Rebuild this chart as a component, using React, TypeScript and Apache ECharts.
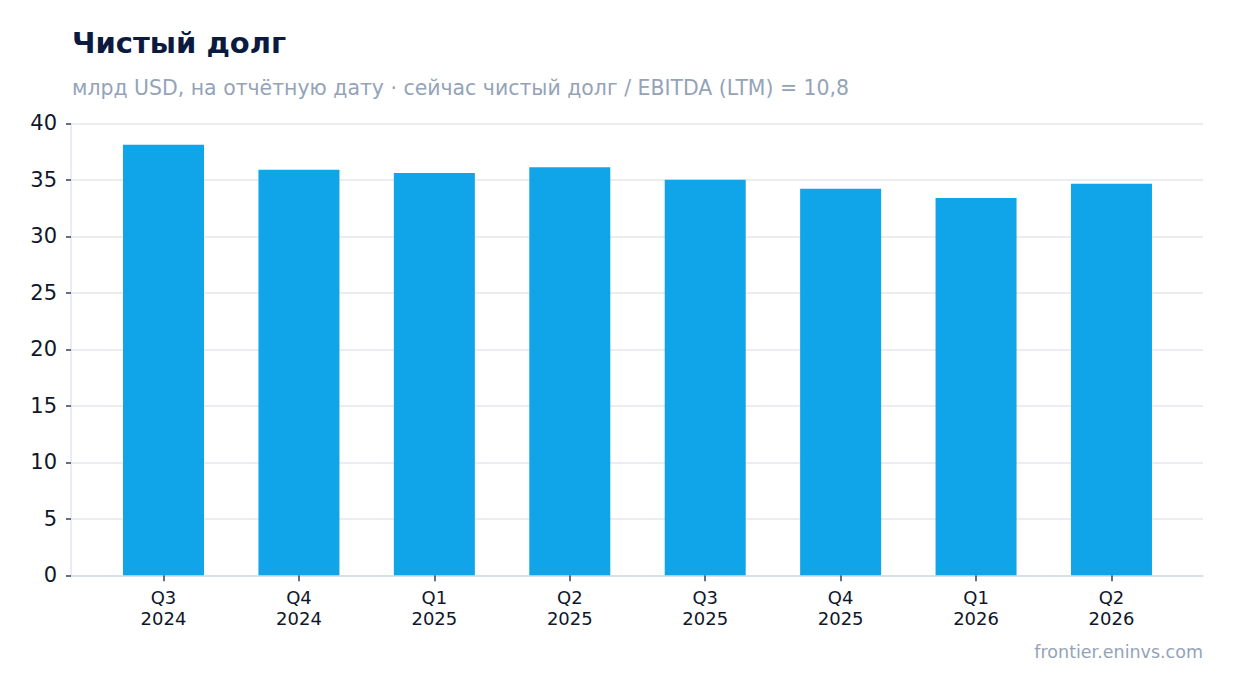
import React, { useEffect, useRef } from "react";
import * as echarts from "echarts";

const categories = ["Q3\n2024", "Q4\n2024", "Q1\n2025", "Q2\n2025", "Q3\n2025", "Q4\n2025", "Q1\n2026", "Q2\n2026"];
const netDebt = [38.1, 35.9, 35.6, 36.1, 35.0, 34.2, 33.4, 34.65];
const titleText = "Чистый долг";
const subtitleText = "млрд USD, на отчётную дату · сейчас чистый долг / EBITDA (LTM) = 10,8";
const footerText = "frontier.eninvs.com";

const FONT = "DejaVu Sans";

export default function App() {
  const ref = useRef<HTMLDivElement>(null);
  useEffect(() => {
    document.body.style.margin = "0";
    const chart = echarts.init(ref.current!, null, { renderer: "svg" });
    const top = 123.3;
    const bottom = 693 - 575.3;
    chart.setOption({
      animation: false,
      backgroundColor: "#ffffff",
      textStyle: { fontFamily: FONT },
      grid: [
        { left: 71, right: 31, top, bottom, containLabel: false },
        { left: 95.8, right: 54.8, top, bottom, containLabel: false },
      ],
      graphic: [
        {
          type: "text",
          x: 72,
          y: 43.3,
          style: { text: titleText, font: `bold 29px '${FONT}'`, fill: "#0b1a3f", verticalAlign: "middle" },
        },
        {
          type: "text",
          x: 72,
          y: 87.5,
          style: { text: subtitleText, font: `20.45px '${FONT}'`, fill: "#94a3b8", verticalAlign: "middle" },
        },
        {
          type: "text",
          x: 1203,
          y: 651.5,
          style: { text: footerText, font: `17.5px '${FONT}'`, fill: "#94a3b8", align: "right", verticalAlign: "middle" },
        },
      ],
      xAxis: [
        {
          type: "value",
          gridIndex: 0,
          min: 0,
          max: 1,
          axisLine: { show: true, lineStyle: { color: "#d5dbe5", width: 1.5 } },
          axisTick: { show: false },
          axisLabel: { show: false },
          splitLine: { show: false },
        },
        {
          type: "category",
          gridIndex: 1,
          data: categories,
          axisLine: { show: false },
          axisTick: { show: true, alignWithLabel: true, length: 6, lineStyle: { color: "#334155", width: 1.5 } },
          axisLabel: { color: "#0f172a", fontSize: 18, lineHeight: 21, margin: 12, fontFamily: FONT },
          splitLine: { show: false },
        },
      ],
      yAxis: [
        {
          type: "value",
          gridIndex: 0,
          min: 0,
          max: 40,
          interval: 5,
          axisLine: { show: true, lineStyle: { color: "#e2e6ee", width: 1.5 } },
          axisTick: { show: true, length: 5, lineStyle: { color: "#334155", width: 1.5 } },
          axisLabel: { color: "#0f172a", fontSize: 21, margin: 14, fontFamily: FONT },
          splitLine: { show: true, lineStyle: { color: "#e5e7eb", width: 1.5 } },
        },
        {
          type: "value",
          gridIndex: 1,
          min: 0,
          max: 40,
          interval: 5,
          axisLine: { show: false },
          axisTick: { show: false },
          axisLabel: { show: false },
          splitLine: { show: false },
        },
      ],
      series: [
        {
          type: "bar",
          xAxisIndex: 1,
          yAxisIndex: 1,
          data: netDebt,
          barWidth: 81,
          itemStyle: { color: "#10a5e8" },
        },
      ],
    });
    return () => chart.dispose();
  }, []);
  return <div ref={ref} style={{ width: 1234, height: 693 }} />;
}
